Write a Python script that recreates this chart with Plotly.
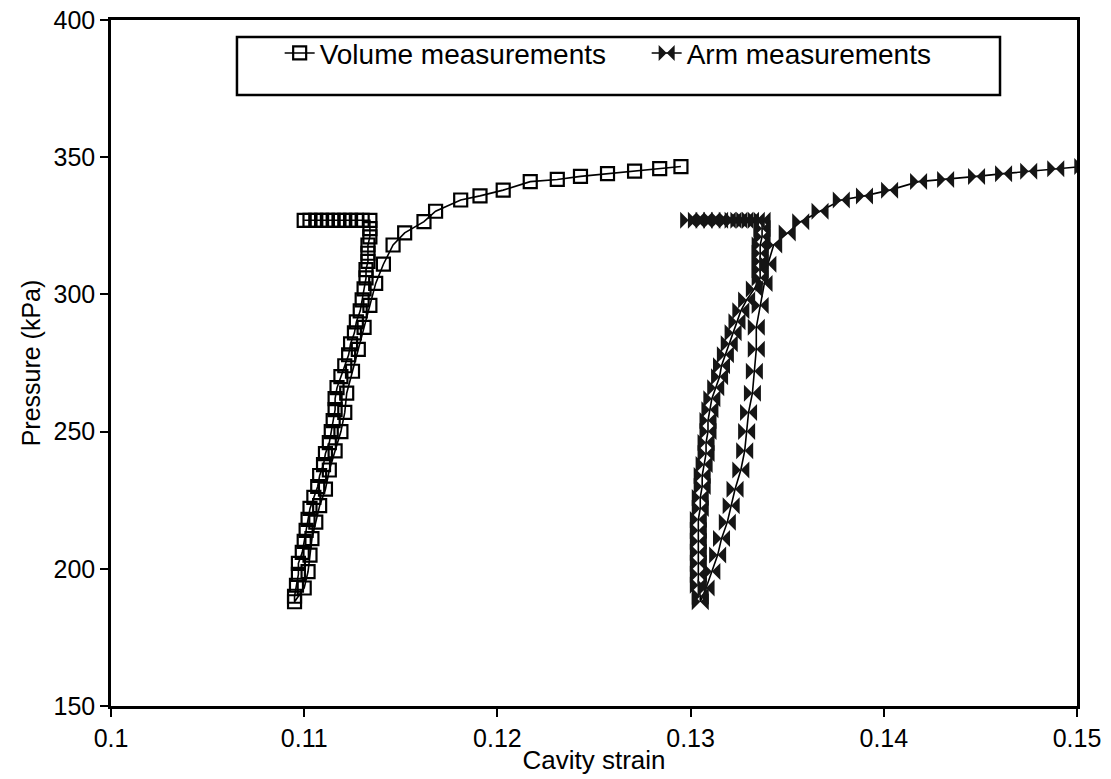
import plotly.graph_objects as go

# ---- data ----
# phase 1: hold at constant pressure
hold_pressure = [327] * 12
volume_hold = [0.1100, 0.1103, 0.1106, 0.1109, 0.1112, 0.1115, 0.1118, 0.1121, 0.1124, 0.1127, 0.1130, 0.1134]
arm_hold = [0.1299, 0.1303, 0.1307, 0.1311, 0.1315, 0.1319, 0.1322, 0.1325, 0.1328, 0.1331, 0.1334, 0.1337]

# phase 2: unloading
unload_pressure = [324, 321, 318, 315, 312, 309, 306, 302, 298, 294, 290, 286, 282, 278, 274, 270,
                   266, 262, 258, 254, 250, 246, 242, 238, 234, 230, 226, 222, 218, 214, 210, 206,
                   202, 198, 194, 190, 188]
volume_unload = [0.1134, 0.1134, 0.1133, 0.1133, 0.1133, 0.1132, 0.1132, 0.1131, 0.1130, 0.1129,
                 0.1127, 0.1126, 0.1124, 0.1123, 0.1121, 0.1119, 0.1117, 0.1116, 0.1116, 0.1115,
                 0.1114, 0.1113, 0.1111, 0.1110, 0.1108, 0.1107, 0.1105, 0.1103, 0.1102, 0.1101,
                 0.1100, 0.1099, 0.1097, 0.1097, 0.1096, 0.1095, 0.1095]
arm_unload = [0.1337, 0.1337, 0.1336, 0.1336, 0.1336, 0.1336, 0.1336, 0.1333, 0.1329, 0.1326,
              0.1324, 0.1322, 0.1320, 0.1318, 0.1316, 0.1315, 0.1313, 0.1311, 0.1310, 0.1309,
              0.1309, 0.1308, 0.1308, 0.1307, 0.1306, 0.1306, 0.1305, 0.1305, 0.1304, 0.1304,
              0.1304, 0.1304, 0.1304, 0.1304, 0.1304, 0.1305, 0.1305]

# phase 3: reloading and continued loading
reload_pressure = [193, 199, 205, 211, 217, 223, 229, 236, 243, 250, 257, 264, 272, 280, 288, 296,
                   304, 311, 318, 322.4, 326.5, 330.3, 334.4, 335.9, 338.0, 341.1, 341.9, 343.0,
                   344.0, 344.9, 345.8, 346.6]
volume_reload = [0.1100, 0.1102, 0.1103, 0.1104, 0.1106, 0.1108, 0.1111, 0.1113, 0.1116, 0.1119,
                 0.1121, 0.1122, 0.1125, 0.1128, 0.1131, 0.1134, 0.1137, 0.1141, 0.1146, 0.1152,
                 0.1162, 0.1168, 0.1181, 0.1191, 0.1203, 0.1217, 0.1231, 0.1243, 0.1257, 0.1271,
                 0.1284, 0.1295]
arm_reload = [0.1308, 0.1311, 0.1314, 0.1316, 0.1319, 0.1321, 0.1323, 0.1326, 0.1328, 0.1329,
              0.1330, 0.1332, 0.1333, 0.1334, 0.1334, 0.1336, 0.1338, 0.1340, 0.1343, 0.1350,
              0.1357, 0.1367, 0.1378, 0.1390, 0.1403, 0.1418, 0.1432, 0.1448, 0.1462, 0.1475,
              0.1489, 0.1503]

x_ticks = [0.1, 0.11, 0.12, 0.13, 0.14, 0.15]
x_tick_labels = ["0.1", "0.11", "0.12", "0.13", "0.14", "0.15"]
y_ticks = [150, 200, 250, 300, 350, 400]

pressure = hold_pressure + unload_pressure + reload_pressure
volume_strain = volume_hold + volume_unload + volume_reload
arm_strain = arm_hold + arm_unload + arm_reload

FONT = "Liberation Sans, Arial, sans-serif"

fig = go.Figure()
fig.add_trace(go.Scatter(
    x=volume_strain, y=pressure, mode="lines+markers", name="Volume measurements",
    line=dict(color="black", width=1.6),
    marker=dict(symbol="square-open", size=13, color="black", line=dict(width=2.2, color="black")),
))
fig.add_trace(go.Scatter(
    x=arm_strain, y=pressure, mode="lines+markers", name="Arm measurements",
    line=dict(color="black", width=1.6),
    marker=dict(symbol="bowtie", size=17, color="#151515", line=dict(width=0)),
))

# legend frame
fig.add_shape(type="rect", xref="paper", yref="paper",
              x0=0.1304, x1=0.9203, y0=0.8907, y1=0.9752,
              line=dict(color="black", width=2.5), fillcolor="rgba(0,0,0,0)")

axis_common = dict(
    showgrid=False, zeroline=False, showline=True, linecolor="black", linewidth=2.5,
    mirror=True, ticks="outside", ticklen=8, tickwidth=2, tickcolor="black",
    tickfont=dict(family=FONT, size=25, color="black"), automargin=False,
)
fig.update_xaxes(range=[0.1, 0.15], tickvals=x_ticks, ticktext=x_tick_labels,
                 title=dict(text="Cavity strain", font=dict(family=FONT, size=26, color="black"), standoff=1),
                 **axis_common)
fig.update_yaxes(range=[150, 400], tickvals=y_ticks,
                 title=dict(text="Pressure (kPa)", font=dict(family=FONT, size=25, color="black"), standoff=6),
                 **axis_common)

fig.update_layout(
    width=1111, height=779,
    margin=dict(l=111, r=34, t=20, b=73),
    paper_bgcolor="white", plot_bgcolor="white",
    font=dict(family=FONT, color="black"),
    legend=dict(orientation="h", x=0.1746, y=0.988, xanchor="left", yanchor="top",
                bgcolor="rgba(0,0,0,0)", borderwidth=0, entrywidth=322, entrywidthmode="pixels",
                font=dict(family=FONT, size=28, color="black")),
)

fig.write_html("out.html")
